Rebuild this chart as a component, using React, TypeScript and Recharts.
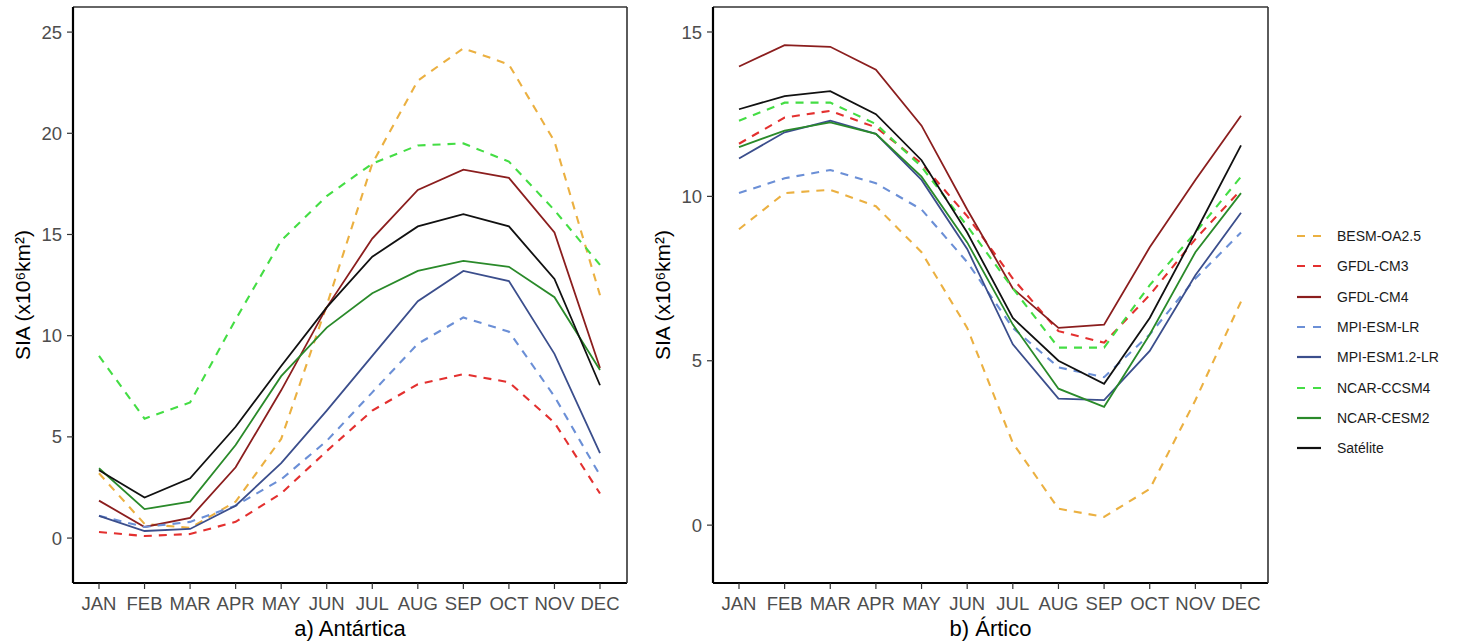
import React from "react"
import { LineChart, Line, XAxis, YAxis, Legend } from "recharts"

const MONTHS = ["JAN", "FEB", "MAR", "APR", "MAY", "JUN", "JUL", "AUG", "SEP", "OCT", "NOV", "DEC"]

// a) Antártica
const besmAnt = [3.2, 0.7, 0.5, 1.8, 4.9, 11.5, 18.5, 22.6, 24.2, 23.4, 19.6, 12.0]
const gfdl3Ant = [0.3, 0.1, 0.2, 0.8, 2.2, 4.3, 6.3, 7.6, 8.1, 7.7, 5.7, 2.2]
const gfdl4Ant = [1.85, 0.55, 1.0, 3.5, 7.3, 11.4, 14.8, 17.2, 18.2, 17.8, 15.1, 8.4]
const mpiLrAnt = [1.1, 0.55, 0.8, 1.6, 2.9, 4.8, 7.2, 9.6, 10.9, 10.2, 7.0, 3.1]
const mpi12Ant = [1.1, 0.35, 0.45, 1.6, 3.7, 6.3, 9.0, 11.7, 13.2, 12.7, 9.1, 4.2]
const ccsm4Ant = [9.0, 5.9, 6.7, 10.8, 14.7, 16.9, 18.5, 19.4, 19.5, 18.6, 16.2, 13.5]
const cesm2Ant = [3.45, 1.43, 1.8, 4.6, 8.0, 10.4, 12.1, 13.2, 13.7, 13.4, 11.9, 8.3]
const satAnt = [3.35, 2.0, 2.95, 5.5, 8.5, 11.4, 13.9, 15.4, 16.0, 15.4, 12.8, 7.55]

// b) Ártico
const besmArc = [9.0, 10.1, 10.2, 9.7, 8.3, 6.0, 2.5, 0.5, 0.25, 1.1, 3.8, 6.8]
const gfdl3Arc = [11.6, 12.4, 12.6, 12.1, 11.0, 9.4, 7.5, 5.9, 5.55, 7.0, 8.7, 10.2]
const gfdl4Arc = [13.95, 14.6, 14.55, 13.85, 12.15, 9.6, 7.2, 6.0, 6.1, 8.45, 10.5, 12.45]
const mpiLrArc = [10.1, 10.55, 10.8, 10.4, 9.6, 8.0, 6.0, 4.8, 4.5, 5.8, 7.5, 8.9]
const mpi12Arc = [11.15, 11.95, 12.3, 11.9, 10.5, 8.4, 5.5, 3.85, 3.8, 5.3, 7.6, 9.5]
const ccsm4Arc = [12.3, 12.85, 12.85, 12.2, 10.9, 9.1, 7.2, 5.4, 5.4, 7.3, 8.9, 10.6]
const cesm2Arc = [11.5, 12.0, 12.25, 11.9, 10.6, 8.6, 6.1, 4.15, 3.6, 5.8, 8.3, 10.1]
const satArc = [12.65, 13.05, 13.2, 12.5, 11.1, 8.9, 6.3, 5.0, 4.3, 6.3, 8.9, 11.55]

const SERIES = [
  { key: "besm", name: "BESM-OA2.5", color: "#EBB041", dashed: true },
  { key: "gfdl3", name: "GFDL-CM3", color: "#E3302F", dashed: true },
  { key: "gfdl4", name: "GFDL-CM4", color: "#8B1E1E", dashed: false },
  { key: "mpiLr", name: "MPI-ESM-LR", color: "#6B8FD6", dashed: true },
  { key: "mpi12", name: "MPI-ESM1.2-LR", color: "#3B4E8C", dashed: false },
  { key: "ccsm4", name: "NCAR-CCSM4", color: "#44DD44", dashed: true },
  { key: "cesm2", name: "NCAR-CESM2", color: "#2A8A2A", dashed: false },
  { key: "sat", name: "Satélite", color: "#111111", dashed: false },
]

function buildRows(cols: Record<string, number[]>) {
  return MONTHS.map((month, i) => {
    const row: Record<string, string | number> = { month }
    for (const k of Object.keys(cols)) row[k] = cols[k][i]
    return row
  })
}

const antData = buildRows({
  besm: besmAnt, gfdl3: gfdl3Ant, gfdl4: gfdl4Ant, mpiLr: mpiLrAnt,
  mpi12: mpi12Ant, ccsm4: ccsm4Ant, cesm2: cesm2Ant, sat: satAnt,
})
const arcData = buildRows({
  besm: besmArc, gfdl3: gfdl3Arc, gfdl4: gfdl4Arc, mpiLr: mpiLrArc,
  mpi12: mpi12Arc, ccsm4: ccsm4Arc, cesm2: cesm2Arc, sat: satArc,
})

const FONT = "'Liberation Sans', Arial, sans-serif"
const tickStyle = { fill: "#4d4d4d", fontSize: 18.5, fontFamily: FONT }

function YLabel({ viewBox }: any) {
  const x = viewBox.x + 22
  const y = viewBox.y + viewBox.height / 2
  return (
    <text
      x={x}
      y={y}
      transform={`rotate(-90 ${x} ${y})`}
      textAnchor="middle"
      dominantBaseline="central"
      fill="#000"
      fontSize={21}
      fontFamily={FONT}
    >
      SIA (x10⁶km²)
    </text>
  )
}

function LegendBox() {
  return (
    <div style={{ fontFamily: FONT, fontSize: 14, color: "#1a1a1a" }}>
      {SERIES.map((s) => (
        <div key={s.key} style={{ display: "flex", alignItems: "center", height: 30.3 }}>
          <svg width={24} height={10}>
            <line
              x1={0}
              y1={5}
              x2={24}
              y2={5}
              stroke={s.color}
              strokeWidth={2.2}
              strokeDasharray={s.dashed ? "8 8" : undefined}
            />
          </svg>
          <span style={{ marginLeft: 16 }}>{s.name}</span>
        </div>
      ))}
    </div>
  )
}

interface PanelProps {
  data: Record<string, string | number>[]
  width: number
  domain: [number, number]
  ticks: number[]
  title: string
  right: number
  legend?: boolean
}

function Panel({ data, width, domain, ticks, title, right, legend }: PanelProps) {
  return (
    <LineChart width={width} height={643} data={data} margin={{ top: 6, right, bottom: 0, left: 0 }}>
      <XAxis
        dataKey="month"
        padding={{ left: 26, right: 27 }}
        height={60}
        tickSize={6}
        tickMargin={8}
        interval={0}
        tick={tickStyle}
        tickLine={{ stroke: "#333", strokeWidth: 1.2 }}
        axisLine={{ stroke: "#000", strokeWidth: 2.2 }}
        label={{ value: title, position: "insideBottom", offset: 7, fill: "#000", fontSize: 22, fontFamily: FONT }}
      />
      <XAxis xAxisId="top" dataKey="month" orientation="top" height={1} tick={false} tickLine={false}
        axisLine={{ stroke: "#333", strokeWidth: 1.6 }} />
      <YAxis
        width={73}
        domain={domain}
        ticks={ticks}
        allowDataOverflow
        tickSize={6}
        tickMargin={5}
        tick={tickStyle}
        tickLine={{ stroke: "#333", strokeWidth: 1.2 }}
        axisLine={{ stroke: "#000", strokeWidth: 2.2 }}
        label={<YLabel />}
      />
      <YAxis yAxisId="right" orientation="right" width={1} domain={domain} allowDataOverflow tick={false}
        tickLine={false} axisLine={{ stroke: "#333", strokeWidth: 1.6 }} />
      {legend && (
        <Legend
          layout="vertical"
          align="right"
          verticalAlign="top"
          content={() => <LegendBox />}
          wrapperStyle={{ top: 221, left: 657, width: 160 }}
        />
      )}
      {SERIES.map((s) => (
        <Line
          key={s.key}
          type="linear"
          dataKey={s.key}
          name={s.name}
          stroke={s.color}
          strokeWidth={s.dashed ? 2.1 : 1.8}
          strokeDasharray={s.dashed ? "8 7" : undefined}
          dot={false}
          activeDot={false}
          isAnimationActive={false}
        />
      ))}
    </LineChart>
  )
}

export default function App() {
  return (
    <div style={{ position: "absolute", left: 0, top: 0, width: 1458, height: 643, background: "#fff", display: "flex" }}>
      <Panel data={antData} width={640} domain={[-2.22, 26.24]} ticks={[0, 5, 10, 15, 20, 25]} title="a) Antártica" right={12} />
      <Panel data={arcData} width={818} domain={[-1.76, 15.76]} ticks={[0, 5, 10, 15]} title="b) Ártico" right={29} legend />
    </div>
  )
}
